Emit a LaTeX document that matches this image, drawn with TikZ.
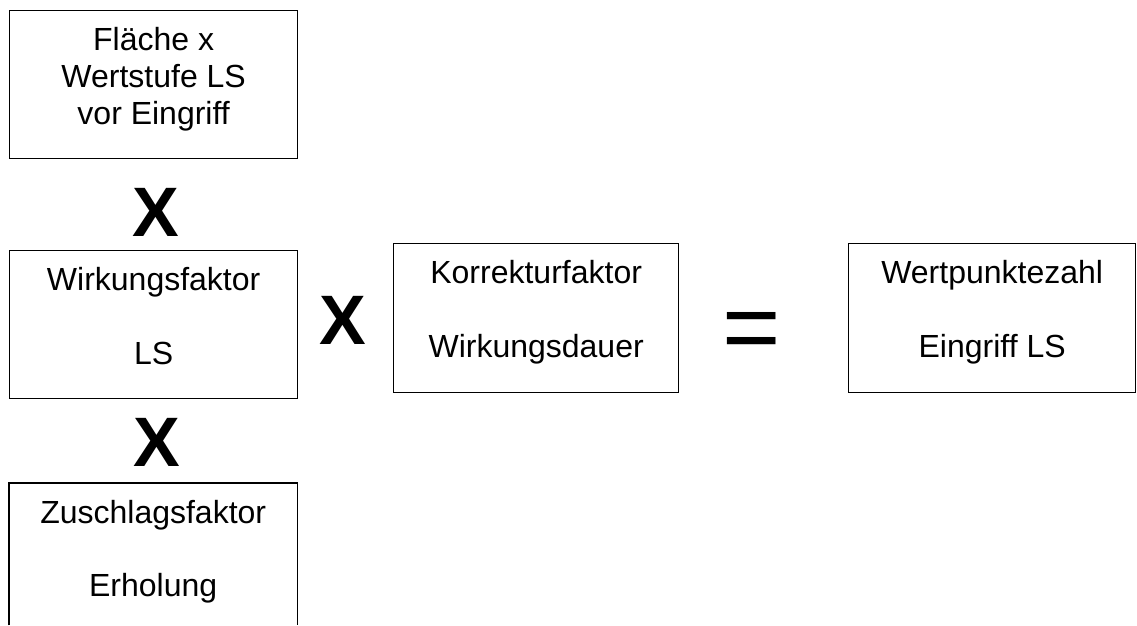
\documentclass[tikz,border=0pt]{standalone}
\usepackage{fontspec}
\setmainfont{Liberation Sans}
\newcommand{\boxtxt}[3]{\parbox[c][#2][t]{#1}{\centering\fontsize{32}{36.75}\selectfont\rule{0pt}{40pt}#3}}
\begin{document}
\begin{tikzpicture}[x=1pt,y=-1pt,
  frame/.style={draw=black,line width=1.3pt,inner sep=0pt,anchor=north west},
  openframe/.style={inner sep=0pt,anchor=north west},
  op/.style={inner sep=0pt,font=\fontsize{70}{70}\selectfont\bfseries},
  eq/.style={inner sep=0pt,anchor=north,font=\fontsize{100}{100}\selectfont}]
\useasboundingbox (0,0) rectangle (1137,625);
\node[frame] (flaeche) at (9,10) {\boxtxt{288pt}{148pt}{Fläche x\\Wertstufe LS\\vor Eingriff}};
\node[frame] (wirkung) at (9,250) {\boxtxt{288pt}{148pt}{Wirkungsfaktor\\[36.75pt]LS}};
\node[frame] (korrektur) at (393,243) {\boxtxt{285pt}{149pt}{Korrekturfaktor\\[36.75pt]Wirkungsdauer}};
\node[frame] (wertpunkt) at (848,243) {\boxtxt{287pt}{149pt}{Wertpunktezahl\\[36.75pt]Eingriff LS}};
\node[openframe] (zuschlag) at (9,483) {\boxtxt{288pt}{142pt}{Zuschlagsfaktor\\[36.75pt]Erholung}};
\draw[line width=1.3pt] (zuschlag.south west) |- (zuschlag.north east) -- (zuschlag.south east);
\node[op] (x1) at (156,212) {X};
\node[op] (x2) at (157,442) {X};
\node[op] (x3) at (343,320) {X};
\node[eq] (gleich) at (752,312) {=};
\end{tikzpicture}
\end{document}
